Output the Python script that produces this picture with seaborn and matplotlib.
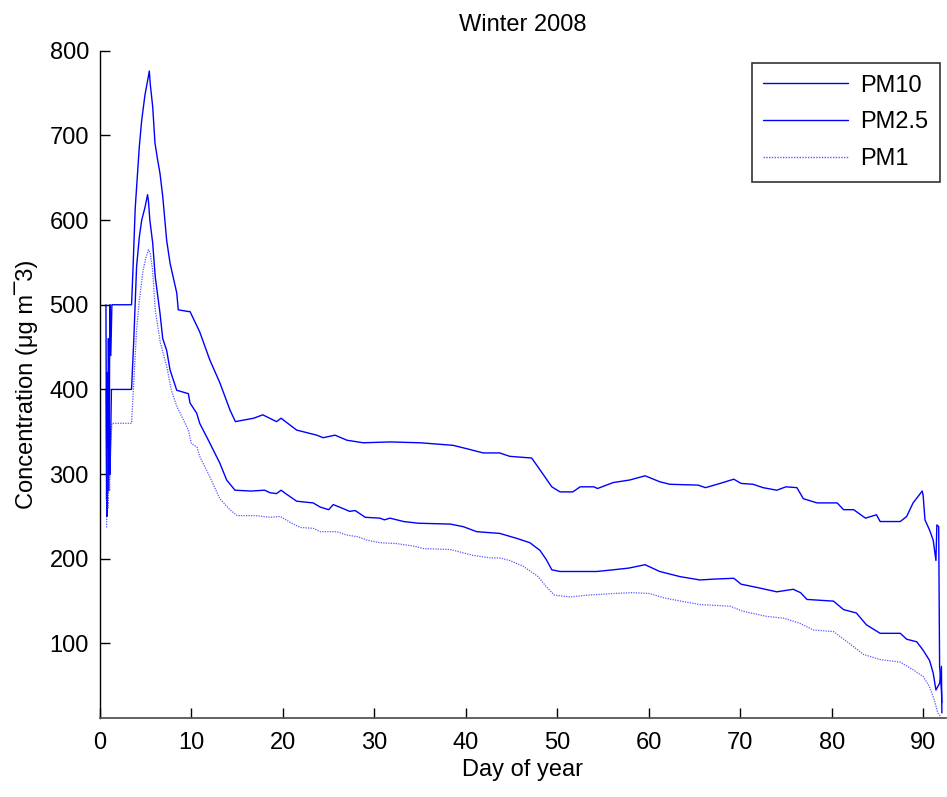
import numpy as np
import pandas as pd
import matplotlib
matplotlib.use("Agg")
import matplotlib.pyplot as plt
import seaborn as sns

# ---- data ----
pm10_day = [0.65, 0.72, 0.78, 0.85, 0.92, 1.0, 1.08, 1.18, 1.3, 3.45, 3.6, 3.85, 4.3, 4.56, 4.92,
            5.28, 5.39, 5.5, 5.76, 6.01, 6.27, 6.56, 6.86, 7.29, 7.66, 8.39, 8.56, 9.66, 9.84,
            10.9, 12.0, 13.1, 14.2, 14.8, 16.8, 17.8, 19.3, 19.8, 21.5, 23.7, 24.4, 25.7, 27.0,
            28.8, 31.7, 35.0, 38.6, 40.1, 41.9, 43.7, 44.8, 47.2, 48.5, 49.4, 50.3, 51.7, 52.5,
            54.0, 54.4, 56.1, 57.9, 59.6, 61.2, 62.3, 65.4, 66.2, 67.8, 69.3, 70.1, 71.4, 72.5,
            74.0, 75.0, 76.2, 76.9, 78.4, 80.6, 81.3, 82.4, 83.7, 84.9, 85.3, 87.5, 88.2, 88.9,
            89.4, 89.9, 90.0, 90.2, 90.7, 91.1, 91.4, 91.5, 91.7, 91.8, 92.0, 92.05]
pm10_val = [500, 270, 420, 300, 460, 330, 500, 440, 500, 500, 540, 614, 687, 718, 748,
            769, 776, 760, 734, 691, 673, 655, 628, 576, 549, 514, 494, 492, 492,
            468, 435, 408, 376, 362, 366, 370, 362, 366, 352, 346, 343, 346, 340,
            337, 338, 337, 334, 330, 325, 325, 321, 319, 299, 285, 279, 279, 285,
            285, 283, 290, 293, 298, 291, 288, 287, 284, 289, 294, 289, 288, 284,
            281, 285, 284, 271, 266, 266, 258, 258, 248, 252, 244, 244, 250, 266,
            273, 280, 275, 246, 234, 222, 198, 240, 238, 73, 45, 30]

pm25_day = [0.68, 0.75, 0.82, 0.9, 1.0, 1.1, 1.25, 3.45, 3.7, 4.0, 4.3, 4.56, 4.92, 5.2, 5.3,
            5.45, 5.76, 6.04, 6.56, 6.86, 7.29, 7.66, 8.39, 9.66, 9.84, 10.57, 10.9, 11.85,
            13.1, 13.85, 14.76, 16.5, 18.0, 18.6, 19.3, 19.8, 20.3, 21.5, 23.3, 24.1, 25.0,
            25.5, 26.2, 27.3, 27.9, 29.0, 30.6, 31.1, 31.7, 33.2, 34.8, 38.3, 39.7, 41.2,
            43.7, 45.6, 47.0, 48.1, 48.8, 49.4, 50.3, 54.3, 56.1, 57.8, 59.6, 61.2, 63.4,
            65.6, 67.1, 69.3, 70.1, 71.9, 74.0, 75.8, 76.6, 77.3, 80.2, 81.3, 82.7, 83.8,
            85.3, 87.5, 88.2, 89.3, 90.0, 90.7, 91.1, 91.4, 91.8, 92.0, 92.05]
pm25_val = [400, 250, 380, 280, 330, 300, 400, 400, 460, 545, 580, 600, 615, 630, 622,
            600, 573, 533, 490, 460, 446, 423, 399, 395, 384, 372, 360, 340,
            313, 293, 281, 280, 281, 278, 277, 281, 277, 268, 266, 261, 258,
            264, 261, 256, 257, 249, 248, 246, 248, 244, 242, 241, 238, 232,
            230, 224, 219, 210, 199, 187, 185, 185, 187, 189, 193, 185, 179,
            175, 176, 177, 170, 166, 161, 164, 160, 152, 150, 140, 136, 122,
            112, 112, 105, 102, 92, 80, 65, 45, 53, 73, 18]

pm1_day = [0.72, 0.8, 0.88, 0.96, 1.05, 1.15, 1.3, 3.45, 3.7, 4.0, 4.3, 4.7, 5.0, 5.3, 5.5,
           5.75, 6.04, 6.6, 7.3, 7.8, 8.4, 9.66, 10.0, 10.6, 10.9, 12.0, 13.1, 14.2, 15.0,
           17.0, 18.6, 19.7, 20.8, 21.9, 23.3, 24.1, 25.9, 27.0, 28.2, 29.2, 30.6, 32.4,
           34.3, 35.4, 38.3, 39.0, 40.8, 42.7, 43.7, 44.8, 46.3, 47.9, 48.8, 49.7, 51.4,
           53.2, 56.1, 58.2, 60.1, 61.6, 63.5, 65.6, 68.9, 70.3, 72.9, 74.7, 76.5, 78.0,
           80.2, 81.7, 83.5, 85.3, 87.5, 88.9, 90.0, 90.7, 91.2, 91.6, 91.9]
pm1_val = [237, 330, 260, 300, 280, 330, 360, 360, 410, 470, 505, 540, 555, 565, 560,
           541, 494, 455, 427, 399, 380, 352, 336, 332, 321, 297, 271, 258, 251,
           251, 249, 250, 243, 237, 236, 232, 232, 228, 226, 222, 219, 218,
           215, 212, 211, 209, 204, 201, 201, 198, 191, 179, 167, 157, 155,
           157, 159, 160, 159, 154, 150, 146, 144, 138, 132, 130, 124, 116,
           114, 102, 87, 81, 78, 69, 61, 49, 34, 18, 14]

labels = ["PM10", "PM2.5", "PM1"]

# ---- figure ----
sns.set_theme(style="white")
plt.rcParams["font.family"] = ["Liberation Sans", "DejaVu Sans"]
plt.rcParams["text.color"] = "black"
plt.rcParams["axes.labelcolor"] = "black"

fig = plt.figure(figsize=(9.47, 7.97), dpi=100)
ax = fig.add_axes([100 / 947, 1 - 718 / 797, 846 / 947, (718 - 50.7) / 797])

series = [(pm10_day, pm10_val), (pm25_day, pm25_val), (pm1_day, pm1_val)]
styles = [dict(color="#0000ff", lw=1.0), dict(color="#0000ff", lw=1.0),
          dict(color="#2020ff", lw=0.9, dashes=(1, 1))]
for (d, v), lab, st in zip(series, labels, styles):
    df = pd.DataFrame({"day": d, "conc": v})
    line_kw = {k: st[k] for k in ("color", "lw")}
    sns.lineplot(data=df, x="day", y="conc", ax=ax, sort=False, estimator=None,
                 label=lab, **line_kw)
    if "dashes" in st:
        ax.lines[-1].set_dashes(st["dashes"])
        ax.lines[-1].set_alpha(0.75)

ax.set_xlim(0, 92.5)
ax.set_ylim(12, 800)
ax.set_xticks(np.arange(0, 100, 10))
ax.set_yticks(np.arange(100, 900, 100))

for s in ["top", "right"]:
    ax.spines[s].set_visible(False)
ax.spines["left"].set_color("black")
ax.spines["left"].set_linewidth(1.0)
ax.spines["bottom"].set_color("#555555")
ax.spines["bottom"].set_linewidth(1.3)

ax.tick_params(axis="both", direction="in", length=7, width=1, colors="black",
               labelsize=17, left=True, bottom=True)
ax.tick_params(axis="x", pad=10)
ax.tick_params(axis="y", pad=8)

ax.set_xlabel("Day of year", fontsize=17, labelpad=4, color="black")
ax.set_ylabel("Concentration (μg m¯3)", fontsize=17, labelpad=8, color="black")
ax.set_title("Winter 2008", fontsize=17, pad=14, color="black")

leg = ax.legend(loc="upper right", bbox_to_anchor=(0.993, 0.982), borderaxespad=0,
                fontsize=17, frameon=True, fancybox=False, edgecolor="black",
                handlelength=3.6, handletextpad=0.5, labelspacing=0.62,
                borderpad=0.5, labelcolor="black")
leg.get_frame().set_linewidth(1.2)
for lh in leg.get_lines():
    lh.set_linewidth(1.0)

fig.savefig("out.png", dpi=100)
